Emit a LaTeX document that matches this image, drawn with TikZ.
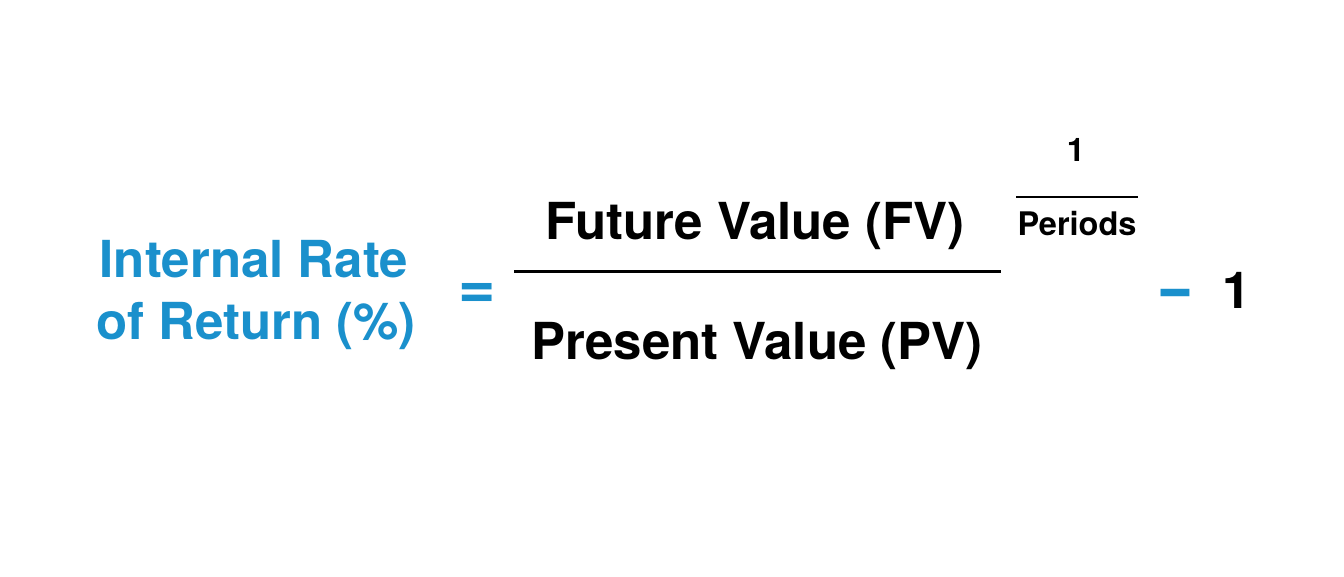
\documentclass[tikz,border=0pt]{standalone}
\usepackage{fontspec}
\setmainfont{TeX Gyre Heros}
\definecolor{irrblue}{HTML}{1A90CC}
\begin{document}
\begin{tikzpicture}[x=1pt,y=-1pt,
  big/.style={inner sep=0pt,anchor=base,font=\fontsize{51}{51}\selectfont\bfseries},
  small/.style={inner sep=0pt,anchor=base,font=\fontsize{32.5}{32.5}\selectfont\bfseries},
  blue/.style={text=irrblue}]
\useasboundingbox[fill=white] (0,0) rectangle (1344,576);
\node[big,blue] (irr1) at (254,277) {Internal Rate};
\node[big,blue] (irr2) at (256,339) {of Return (\%)};
\node[big,blue,font=\fontsize{64}{64}\selectfont\bfseries] (eq) at (477,308) {=};
\node[big] (fv) at (755,239) {Future Value (FV)};
\node[big] (pv) at (757,359) {Present Value (PV)};
\coordinate (fl) at (514,271);
\coordinate (fr) at (1001,271);
\draw[line width=3pt] (fl) -- (fr);
\node[small] (one) at (1076,161) {1};
\node[small] (per) at (1077,235) {Periods};
\coordinate (sl) at (1016,197);
\coordinate (sr) at (1138,197);
\draw[line width=2.5pt] (sl) -- (sr);
\node[big,blue,yscale=1.4] (minus) at (1176,311) {–};
\node[big] (onebig) at (1237,308) {1};
\end{tikzpicture}
\end{document}
